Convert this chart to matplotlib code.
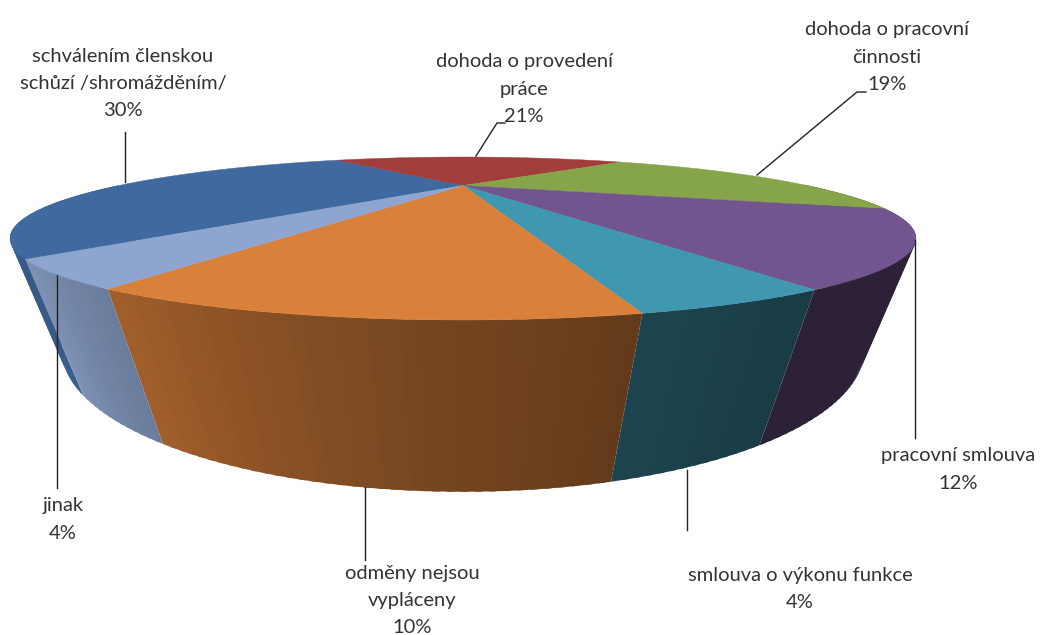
import numpy as np
import matplotlib
matplotlib.use("Agg")
import matplotlib.pyplot as plt
from matplotlib.patches import Polygon

plt.rcParams['font.family'] = ['Lato', 'DejaVu Sans']

# data, in the order of the excel series (labels show the rounded share)
categories = ["schválením členskou\nschůzí /shromážděním/", "dohoda o provedení\npráce",
              "dohoda o pracovní\nčinnosti", "pracovní smlouva", "smlouva o výkonu funkce",
              "odměny nejsou\nvypláceny", "jinak"]
values = [29.7, 21.3, 19.3, 12.0, 3.85, 10.0, 3.85]
colors = ["#406a9f", "#a13e3b", "#86a44a", "#72558e", "#3f97b0", "#d9803a", "#8ea6cf"]

# first line of every label, pixels
label_pos = [(123, 56), (524, 62), (887, 30), (958, 456), (800, 575), (412, 573), (63, 506)]
# leader lines, pixels
leaders = [[(476, 156), (497, 123), (505, 123)],
           [(125, 182), (125, 132)],
           [(757, 175), (857, 92), (866, 92)],
           [(915, 240), (915, 438)],
           [(687, 470), (687, 530)],
           [(365, 487), (365, 560)],
           [(57, 275), (57, 488)]]

# camera: top disc ellipse, perspective and the point where the walls meet
start_angle = 219.0
cx, cy, a, b = 463.0, 238.5, 453.0, 81.5
k = -0.65
vp = (462.0, 1283.0)
depth = 0.076

# wall brightness against the angle on the disc
shade_at = [110, 155, 169, 190, 205, 219, 260]
shade_val = [0.38, 0.39, 0.45, 0.60, 0.74, 0.88, 0.78]


def project(theta, t=0.0, r=1.0):
    th = np.radians(theta)
    u = r * np.sin(th)
    v = -r * np.cos(th)
    w = 1 + k * v
    x = cx + a * u * np.sqrt(1 - k * k) / w
    y = cy + b * (v + k) / w
    # slide toward the vanishing point for the lower rim
    return (x * w + t * vp[0]) / (w + t), (y * w + t * vp[1]) / (w + t)


def shaded(color, theta):
    rgb = np.array(matplotlib.colors.to_rgb(color))
    return tuple(rgb * np.interp(theta, shade_at, shade_val))


fig = plt.figure(figsize=(10.4, 6.35), dpi=100)
ax = fig.add_axes([0, 0, 1, 1])
ax.set_xlim(0, 1040)
ax.set_ylim(635, 0)
ax.axis("off")

angles = start_angle + np.cumsum([0] + values) * 3.6

# walls, only the part in front. each strip overlaps the one before so no seams show
for i in range(len(values)):
    steps = np.arange(angles[i], angles[i + 1], 1.0)
    steps = np.append(steps, angles[i + 1])
    for t0, t1 in zip(steps[:-1], steps[1:]):
        m = ((t0 + t1) / 2) % 360
        if m < 90 or m > 270:
            continue
        back = max(t0 - 0.5, angles[i])
        p = [project(back), project(t1), project(t1, depth), project(back, depth)]
        ax.add_patch(Polygon(p, closed=True, facecolor=shaded(colors[i], m), edgecolor="none", zorder=2))

# top slices
for i in range(len(values)):
    th = np.linspace(angles[i], angles[i + 1], 80)
    xs, ys = project(th)
    x0, y0 = project(0.0, r=0.0)
    p = np.column_stack([np.append(xs, x0), np.append(ys, y0)])
    ax.add_patch(Polygon(p, closed=True, facecolor=colors[i], edgecolor=colors[i], lw=0.3, zorder=3))

for line in leaders:
    xs, ys = zip(*line)
    ax.plot(xs, ys, color="#222222", lw=1.0, zorder=4)

for name, val, pos in zip(categories, values, label_pos):
    lines = name.split("\n") + [str(round(val)) + "%"]
    for j, s in enumerate(lines):
        ax.text(pos[0], pos[1] + 27.3 * j, s, ha="center", va="center",
                fontsize=14.5, color="#333333", zorder=5)

fig.savefig("out.png", dpi=100)
